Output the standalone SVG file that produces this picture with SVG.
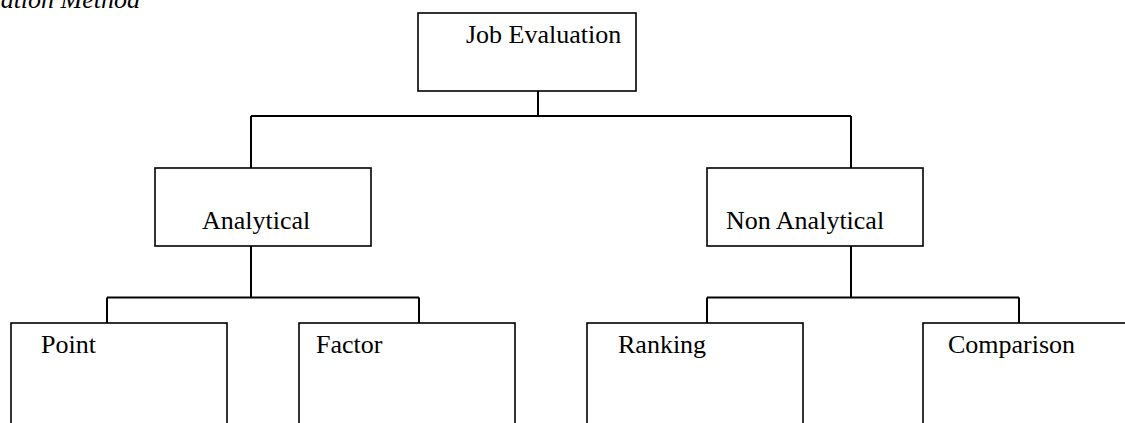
<svg xmlns="http://www.w3.org/2000/svg" width="1125" height="423" viewBox="0 0 1125 423">
<style>
.box{fill:#fff;stroke:#000;stroke-width:1.6}
.lbl{font-family:"Liberation Serif","Times New Roman",serif;font-size:26px;fill:#000}
.ttl{font-family:"Liberation Serif","Times New Roman",serif;font-size:26px;font-style:italic;fill:#000}
.con{fill:none;stroke:#000;stroke-width:2}
</style>
<rect width="1125" height="423" fill="#fff"/>
<text class="ttl" x="140" y="8" text-anchor="end">ation Method</text>
<g id="connectors">
<path class="con" d="M538 91V116M251 116H851M251 116V168M851 116V168"/>
<path class="con" d="M251 246V297.5M107 297.5H419M107 297.5V323M419 297.5V323"/>
<path class="con" d="M851 246V297.5M707 297.5H1019M707 297.5V323M1019 297.5V323"/>
</g>
<g id="job-evaluation"><rect class="box" x="418" y="13" width="218" height="78"/><text class="lbl" x="466" y="43">Job Evaluation</text></g>
<g id="analytical"><rect class="box" x="155" y="168" width="216" height="78"/><text class="lbl" x="202" y="229">Analytical</text></g>
<g id="non-analytical"><rect class="box" x="707" y="168" width="216" height="78"/><text class="lbl" x="726" y="229">Non Analytical</text></g>
<g id="point"><rect class="box" x="11" y="323" width="216" height="120"/><text class="lbl" x="41" y="353">Point</text></g>
<g id="factor"><rect class="box" x="299" y="323" width="216" height="120"/><text class="lbl" x="316" y="353">Factor</text></g>
<g id="ranking"><rect class="box" x="587" y="323" width="216" height="120"/><text class="lbl" x="618" y="353">Ranking</text></g>
<g id="comparison"><rect class="box" x="923" y="323" width="216" height="120"/><text class="lbl" x="948" y="353">Comparison</text></g>
</svg>
